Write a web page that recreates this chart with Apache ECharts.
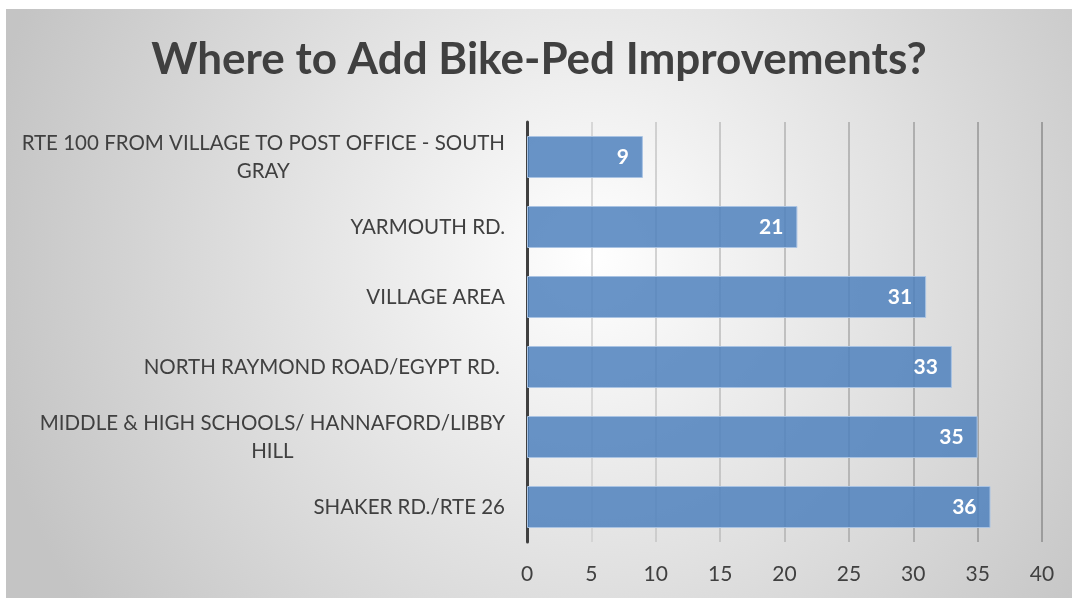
<!DOCTYPE html>
<html>
<head>
<meta charset="utf-8">
<script src="https://cdn.jsdelivr.net/npm/echarts@6/dist/echarts.min.js"></script>
<style>
  html, body { margin: 0; padding: 0; background: #fff; }
  #chart { position: absolute; left: 6px; top: 9px; width: 1066px; height: 589px; }
</style>
</head>
<body>
<div id="chart"></div>
<script>
// 数据
const categories = [
  'SHAKER RD./RTE 26',
  'MIDDLE & HIGH SCHOOLS/ HANNAFORD/LIBBY\nHILL',
  'NORTH RAYMOND ROAD/EGYPT RD. ',
  'VILLAGE AREA',
  'YARMOUTH RD.',
  'RTE 100 FROM VILLAGE TO POST OFFICE - SOUTH\nGRAY'
];
const votes = [36, 35, 33, 31, 21, 9];
const xTicks = [0, 5, 10, 15, 20, 25, 30, 35, 40];

const font = 'Lato, "Open Sans", sans-serif';

let myChart = echarts.init(document.getElementById('chart'));

let option = {
  backgroundColor: {
    type: 'radial', x: 0.55, y: 0.42, r: 1.05,
    colorStops: [
      { offset: 0, color: '#ffffff' },
      { offset: 1, color: '#c4c4c4' }
    ]
  },
  title: {
    text: 'Where to Add Bike-Ped Improvements?',
    left: 'center',
    top: 24,
    textStyle: { color: '#404040', fontSize: 44, fontWeight: 'bold', fontFamily: font }
  },
  grid: { left: 521, right: 30, top: 113, bottom: 56 },
  xAxis: {
    type: 'value',
    min: xTicks[0],
    max: xTicks[xTicks.length - 1],
    interval: 5,
    axisLine: { show: false },
    axisTick: { show: false },
    axisLabel: { color: '#404040', fontSize: 21, margin: 22, fontFamily: font },
    splitLine: {
      lineStyle: {
        width: 1.5,
        color: {
          type: 'linear', x: 521, y: 0, x2: 1036, y2: 0, global: true,
          colorStops: [
            { offset: 0, color: '#d8d8d8' },
            { offset: 1, color: '#8c8c8c' }
          ]
        }
      }
    }
  },
  yAxis: {
    type: 'category',
    data: categories,
    axisLine: { lineStyle: { color: '#404040', width: 3 } },
    axisTick: { show: false },
    axisLabel: {
      margin: 22,
      fontFamily: font,
      formatter: function (v) { return '{c|' + v + '}'; },
      rich: {
        c: { align: 'center', color: '#404040', fontSize: 20.5, lineHeight: 28, fontFamily: font }
      }
    }
  },
  series: [
    {
      type: 'bar',
      data: votes,
      barWidth: '60%',
      itemStyle: {
        color: 'rgba(79,129,189,0.85)',
        borderColor: '#a9c3e3',
        borderWidth: 1
      },
      label: {
        show: true,
        position: 'insideRight',
        distance: 14,
        color: '#fff',
        fontWeight: 'bold',
        fontSize: 21,
        fontFamily: font
      }
    }
  ]
};

myChart.setOption(option);
window.addEventListener('resize', function () {
  myChart.resize();
});
</script>
</body>
</html>
